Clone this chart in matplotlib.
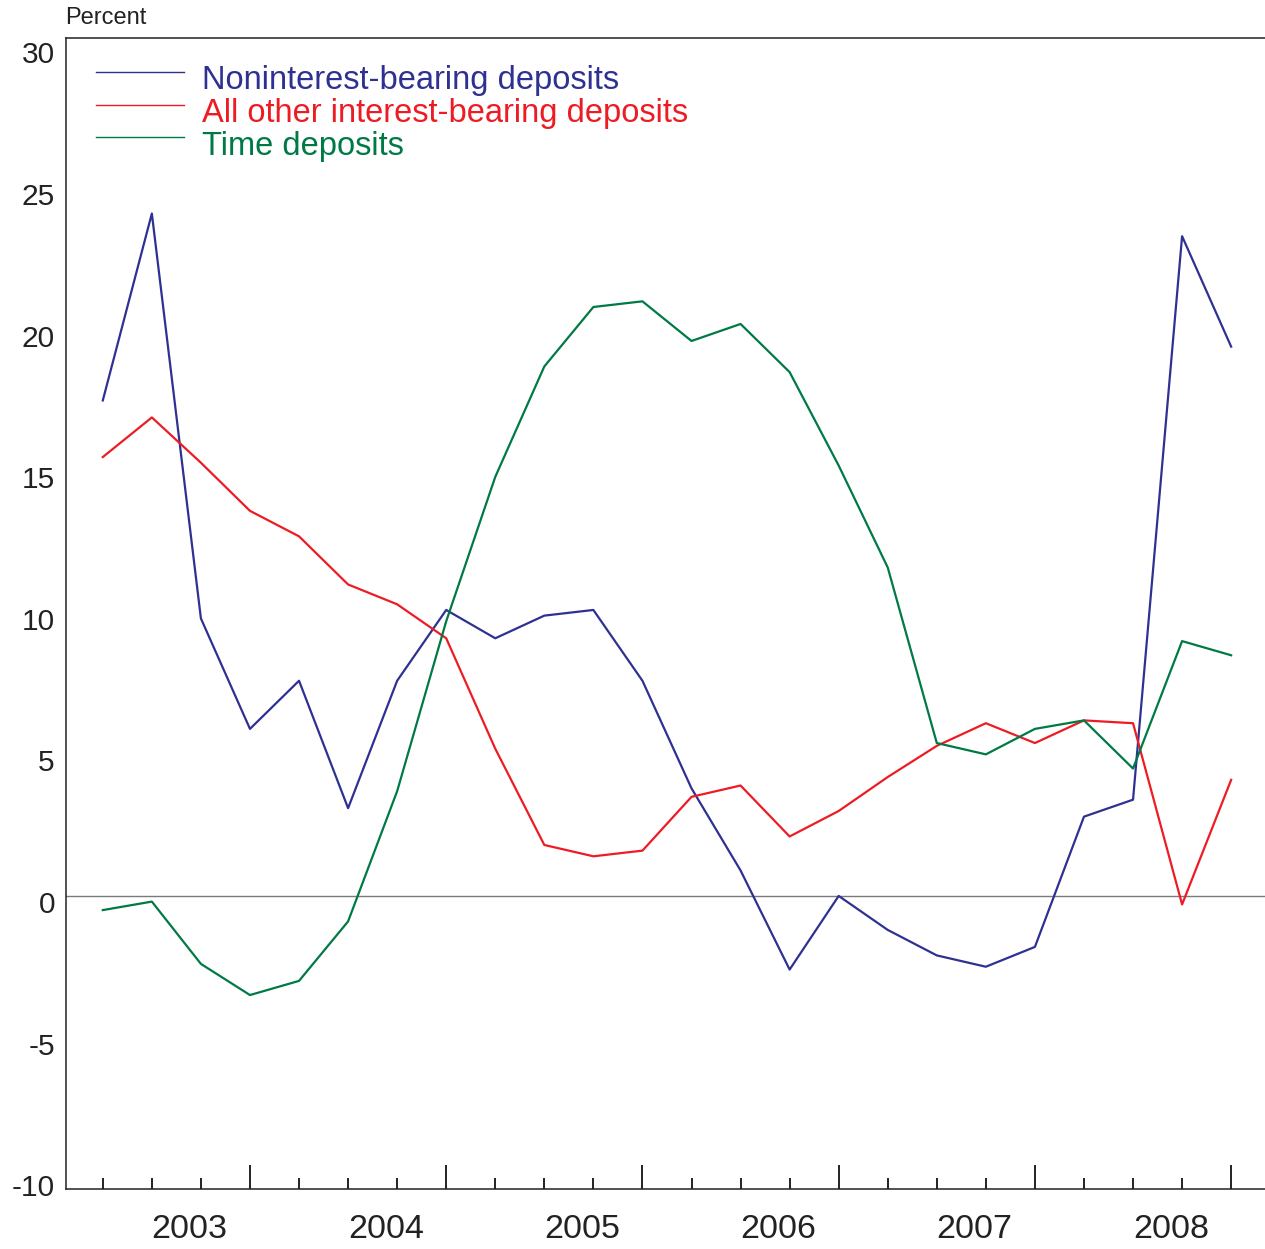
import matplotlib
matplotlib.use("Agg")
import matplotlib.pyplot as plt
import matplotlib.transforms as mtransforms
import numpy as np

# Quarterly growth rates, 2003:Q1 - 2008:Q4 (percent, annual rate)
quarters = np.arange(24)
years = ["2003", "2004", "2005", "2006", "2007", "2008"]

noninterest_bearing = [17.5, 24.1, 9.8, 5.9, 7.6, 3.1, 7.6, 10.1, 9.1, 9.9, 10.1, 7.6,
                       3.8, 0.9, -2.6, 0.0, -1.2, -2.1, -2.5, -1.8, 2.8, 3.4, 23.3, 19.4]
other_interest_bearing = [15.5, 16.9, 15.3, 13.6, 12.7, 11.0, 10.3, 9.1, 5.2, 1.8, 1.4, 1.6,
                          3.5, 3.9, 2.1, 3.0, 4.2, 5.3, 6.1, 5.4, 6.2, 6.1, -0.3, 4.1]
time_deposits = [-0.5, -0.2, -2.4, -3.5, -3.0, -0.9, 3.7, 9.7, 14.8, 18.7, 20.8, 21.0,
                 19.6, 20.2, 18.5, 15.2, 11.6, 5.4, 5.0, 5.9, 6.2, 4.5, 9.0, 8.5]

series_labels = ["Noninterest-bearing deposits", "All other interest-bearing deposits",
                 "Time deposits"]
series_colors = ["#2E3192", "#ED1C24", "#007A45"]

plt.rcParams["font.family"] = ["Liberation Sans", "DejaVu Sans"]

fig = plt.figure(figsize=(12.65, 12.49), dpi=100)
ax = fig.add_axes([66 / 1265, 60 / 1249, 1 - 66 / 1265, 1151 / 1249])

ax.axhline(0, color="#7a7a7a", lw=1.0, zorder=1)
for vals, lab, col in zip([noninterest_bearing, other_interest_bearing, time_deposits],
                          series_labels, series_colors):
    ax.plot(quarters, vals, color=col, lw=1.6, label=lab, zorder=3)

ax.set_xlim(-0.75, 23.69)
ax.set_ylim(-10.35, 30.3)

# y axis: labels only, nudged slightly downward
ax.set_yticks([-10, -5, 0, 5, 10, 15, 20, 25, 30])
ax.set_yticklabels(["-10", "-5", "0", "5", "10", "15", "20", "25", "30"])
ax.tick_params(axis="y", length=0, pad=8, labelsize=21.5, colors="#222222")
shift = mtransforms.ScaledTranslation(0, -6 / 100, fig.dpi_scale_trans)
for lbl in ax.get_yticklabels():
    lbl.set_transform(lbl.get_transform() + shift)

# x axis: quarter ticks, longer ticks at year ends
ax.set_xticks([3, 7, 11, 15, 19, 23])
ax.set_xticks(quarters, minor=True)
ax.set_xticklabels([])
ax.tick_params(axis="x", which="major", direction="in", length=17, width=1.4,
               color="#222222")
ax.tick_params(axis="x", which="minor", direction="in", length=8, width=1.4,
               color="#222222")

year_trans = mtransforms.blended_transform_factory(ax.transData, ax.transAxes)
for i, yr in enumerate(years):
    ax.text(1.77 + 4 * i, -41 / 1151, yr, transform=year_trans, ha="center",
            va="center", fontsize=24.5, color="#222222")

for side in ["left", "top", "bottom"]:
    ax.spines[side].set_color("#222222")
    ax.spines[side].set_linewidth(1.1)
ax.spines["right"].set_visible(False)

fig.text(65 / 1265, 1 - 18 / 1249, "Percent", ha="left", va="center",
         fontsize=17, color="#222222")

leg = ax.legend(loc="upper left", bbox_to_anchor=(30 / 1199, 1 - 21 / 1151),
                frameon=False, fontsize=23.5, handlelength=2.7, handletextpad=0.55,
                labelspacing=0.06, borderaxespad=0, borderpad=0,
                labelcolor="linecolor")
for h in leg.get_lines():
    h.set_linewidth(1.0)
# legend labels sit a little below their key lines
text_shift = mtransforms.ScaledTranslation(0, -6 / 100, fig.dpi_scale_trans)
for t in leg.get_texts():
    t.set_transform(t.get_transform() + text_shift)

fig.savefig("out.png", dpi=100)
